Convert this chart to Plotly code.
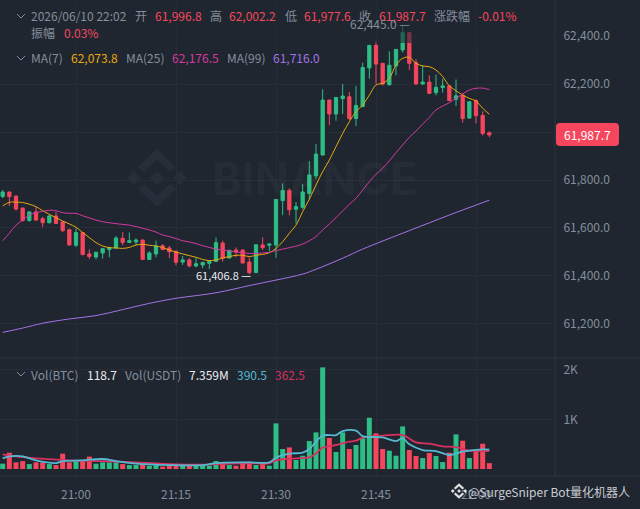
import pandas as pd
import plotly.graph_objects as go
from plotly.subplots import make_subplots

WIDTH = 640
HEIGHT = 509

BG = '#1f2630'
GRID = '#272d37'
EDGE = '#2f3540'
GRAY = '#848e9c'
RED = '#f6465d'
GREEN = '#2ebd85'
ORANGE = '#e9a90d'
MAGENTA = '#d5399f'
PURPLE = '#a373e6'
CYAN = '#55b9d2'
CRIMSON = '#d8305f'
FONT = 'Noto Sans CJK SC'

times = pd.date_range('2026-06-10 20:49', periods=74, freq='min')

opens = [61731, 61750, 61733, 61683, 61631, 61667, 61639, 61622, 61650, 61625,
         61593, 61528, 61581, 61492, 61479, 61496, 61510, 61517, 61557, 61540,
         61542, 61550, 61469, 61492, 61526, 61517, 61503, 61458, 61467, 61442,
         61446, 61453, 61461, 61537, 61475, 61508, 61508, 61458, 61415, 61529,
         61528, 61529, 61714, 61757, 61678, 61686, 61744, 61817, 61904, 62133,
         62075, 62139, 62147, 62056, 62106, 62267, 62361, 62286, 62197, 62275,
         62342, 62414, 62289, 62200, 62208, 62164, 62185, 62192, 62136, 62153,
         62058, 62131, 62069, 61996.8]
highs = [61758, 61752, 61735, 61686, 61669, 61686, 61647, 61656, 61667, 61628,
         61597, 61599, 61583, 61511, 61500, 61517, 61522, 61567, 61583, 61581,
         61557, 61552, 61503, 61547, 61533, 61525, 61506, 61483, 61475, 61475,
         61460, 61464, 61561, 61547, 61508, 61519, 61511, 61478, 61531, 61561,
         61536, 61720, 61786, 61765, 61708, 61783, 61879, 61950, 62178, 62135,
         62145, 62200, 62167, 62192, 62289, 62362, 62381, 62288, 62336, 62345,
         62445, 62415, 62303, 62278, 62236, 62239, 62222, 62193, 62219, 62161,
         62127, 62136, 62086, 62002.2]
lows = [61724, 61692, 61672, 61626, 61626, 61631, 61603, 61619, 61617, 61583,
        61527, 61521, 61487, 61471, 61469, 61472, 61478, 61514, 61528, 61539,
        61528, 61467, 61467, 61478, 61508, 61474, 61444, 61446, 61436, 61436,
        61432, 61429, 61458, 61460, 61474, 61478, 61453, 61406.8, 61411, 61508,
        61503, 61476, 61653, 61653, 61619, 61678, 61719, 61803, 61902, 62028,
        62047, 62075, 62050, 62025, 62103, 62222, 62200, 62194, 62192, 62236,
        62331, 62258, 62197, 62197, 62158, 62153, 62164, 62128, 62108, 62039,
        62056, 62036, 61985, 61977.6]
closes = [61750, 61731, 61679, 61631, 61667, 61633, 61622, 61650, 61619, 61589,
          61529, 61581, 61489, 61481, 61499, 61514, 61518, 61558, 61540, 61547,
          61550, 61469, 61496, 61525, 61510, 61501, 61457, 61467, 61442, 61451,
          61456, 61461, 61539, 61474, 61507, 61500, 61454, 61414, 61530, 61518,
          61533, 61719, 61756, 61676, 61689, 61750, 61821, 61908, 62133, 62075,
          62144, 62150, 62056, 62111, 62269, 62361, 62283, 62200, 62278, 62344,
          62414, 62286, 62200, 62208, 62161, 62186, 62192, 62131, 62151, 62056,
          62126, 62068, 61994, 61987.7]

ma7 = [61692, 61707, 61708, 61706, 61699, 61689, 61672, 61657, 61643, 61629,
       61617, 61603, 61581, 61560, 61539, 61525, 61518, 61517, 61515, 61519,
       61529, 61532, 61528, 61525, 61518, 61508, 61499, 61492, 61485, 61478,
       61469, 61464, 61467, 61475, 61481, 61486, 61486, 61481, 61486, 61490,
       61497, 61515, 61543, 61578, 61612, 61668, 61720, 61779, 61835, 61883,
       61939, 61994, 62043, 62085, 62112, 62154, 62196, 62203, 62224, 62279,
       62307, 62311, 62286, 62275, 62272, 62258, 62231, 62192, 62172, 62154,
       62140, 62129, 62099, 62073.8]
ma25 = [61547, 61578, 61612, 61633, 61654, 61664, 61669, 61674, 61672, 61664,
        61661, 61661, 61651, 61642, 61633, 61626, 61622, 61618, 61615, 61612,
        61606, 61599, 61592, 61583, 61571, 61564, 61556, 61547, 61542, 61535,
        61526, 61519, 61512, 61508, 61504, 61500, 61497, 61494, 61494, 61496,
        61499, 61506, 61512, 61518, 61524, 61533, 61547, 61564, 61592, 61617,
        61643, 61671, 61699, 61724, 61758, 61793, 61824, 61849, 61880, 61914,
        61946, 61978, 62004, 62033, 62061, 62092, 62108, 62122, 62140, 62158,
        62175, 62182, 62183, 62176.5]
ma99_idx = [0, 3, 6, 10, 14, 18, 22, 26, 32, 37, 41, 45, 47, 51, 54, 61, 67, 73]
ma99 = [61165, 61183, 61203, 61221, 61235, 61260, 61286, 61307, 61330, 61360,
        61383, 61408, 61428, 61474, 61512, 61589, 61654, 61716]

volumes = [108, 330, 135, 160, 100, 135, 135, 100, 80, 310,
           135, 160, 160, 250, 108, 135, 135, 135, 100, 80,
           80, 100, 67, 80, 47, 67, 67, 67, 67, 67,
           67, 67, 160, 135, 80, 67, 135, 148, 80, 114,
           67, 922, 404, 437, 182, 269, 565, 740, 2053, 626,
           343, 740, 404, 485, 619, 1036, 720, 404, 370, 269,
           861, 384, 262, 222, 323, 262, 141, 330, 700, 572,
           222, 384, 511, 118.7]
vol_cyan_idx = [0, 1, 3, 5, 8, 9, 12, 15, 17, 20, 25, 30, 32, 36, 37, 40, 41, 43, 45,
                46, 48, 50, 51, 53, 54, 57, 59, 60, 61, 63, 65, 67, 69, 72, 73]
vol_cyan = [215, 256, 256, 175, 121, 160, 175, 202, 160, 108, 80, 80, 121, 135, 135, 135, 229, 310, 330,
            404, 673, 686, 767, 774, 666, 639, 565, 619, 498, 384, 363, 283, 350, 397, 390.5]
vol_red_idx = [0, 2, 5, 10, 15, 20, 25, 30, 35, 37, 40, 41, 44, 46, 47, 48, 50, 52, 53, 54,
               57, 60, 62, 64, 66, 68, 70, 72, 73]
vol_red = [296, 256, 215, 175, 160, 135, 100, 87, 114, 121, 114, 175, 215, 236, 316, 431, 485, 552, 572, 633,
           673, 686, 538, 511, 458, 444, 370, 363, 362.5]

header_labels = [
    ('2026/06/10 22:02', 30, 16, GRAY), ('开', 134, 16, GRAY), ('61,996.8', 154, 16, RED),
    ('高', 209, 16, GRAY), ('62,002.2', 228, 16, RED), ('低', 284, 16, GRAY),
    ('61,977.6', 303, 16, RED), ('收', 358, 16, GRAY), ('61,987.7', 378, 16, RED),
    ('涨跌幅', 433, 16, GRAY), ('-0.01%', 477, 16, RED),
    ('振幅', 30, 33, GRAY), ('0.03%', 63, 33, RED),
    ('MA(7)', 30, 58, GRAY), ('62,073.8', 70, 58, ORANGE),
    ('MA(25)', 125, 58, GRAY), ('62,176.5', 171, 58, MAGENTA),
    ('MA(99)', 226, 58, GRAY), ('61,716.0', 272, 58, PURPLE),
    ('Vol(BTC)', 30, 374, GRAY), ('118.7', 86, 374, '#eaecef'),
    ('Vol(USDT)', 124, 374, GRAY), ('7.359M', 188, 374, '#eaecef'),
    ('390.5', 236, 374, CYAN), ('362.5', 274, 374, CRIMSON),
]


def px(x):
    return x / WIDTH


def py(y):
    return 1 - y / HEIGHT


def poly(points):
    return 'M ' + ' L '.join('%.5f %.5f' % (px(x), py(y)) for x, y in points) + ' Z'


def label(fig, text, x, y, color, size=12, anchor='left'):
    fig.add_annotation(xref='paper', yref='paper', x=px(x), y=py(y), text=text, showarrow=False,
                       xanchor=anchor, yanchor='middle', borderpad=0,
                       font=dict(family=FONT, size=size, color=color))


def chevron(fig, y):
    path = 'M %.5f %.5f L %.5f %.5f L %.5f %.5f' % (px(17), py(y - 2), px(21), py(y + 2), px(25), py(y - 2))
    fig.add_shape(type='path', xref='paper', yref='paper', path=path, line=dict(color=GRAY, width=1))


def diamond(cx, cy, r):
    return poly([(cx, cy - r), (cx + r, cy), (cx, cy + r), (cx - r, cy)])


def logo_paths(cx, cy, k):
    # binance mark, k scales the big watermark version down
    paths = [diamond(cx, cy, 7 * k), diamond(cx - 23 * k, cy, 7 * k), diamond(cx + 23 * k, cy, 7 * k)]
    for s in (1, -1):
        paths.append(poly([(cx, cy - s * 29 * k), (cx + 19 * k, cy - s * 11 * k), (cx + 13 * k, cy - s * 6 * k),
                           (cx, cy - s * 18 * k), (cx - 13 * k, cy - s * 6 * k), (cx - 19 * k, cy - s * 11 * k)]))
    return paths


def create_chart():
    fig = make_subplots(rows=2, cols=1, shared_xaxes=True)

    bar_colors = [GREEN if c >= o else RED for o, c in zip(opens, closes)]
    ma99_times = [times[i] for i in ma99_idx]

    fig.add_trace(go.Candlestick(x=times, open=opens, high=highs, low=lows, close=closes, whiskerwidth=0,
                                 increasing=dict(line=dict(color=GREEN, width=1), fillcolor=GREEN),
                                 decreasing=dict(line=dict(color=RED, width=1), fillcolor=RED)), row=1, col=1)
    fig.add_trace(go.Scatter(x=times, y=ma7, mode='lines', line=dict(color=ORANGE, width=1, shape='spline')), row=1, col=1)
    fig.add_trace(go.Scatter(x=times, y=ma25, mode='lines', line=dict(color=MAGENTA, width=1, shape='spline')), row=1, col=1)
    fig.add_trace(go.Scatter(x=ma99_times, y=ma99, mode='lines', line=dict(color=PURPLE, width=1, shape='spline')), row=1, col=1)

    fig.add_trace(go.Bar(x=times, y=volumes, width=45000, marker=dict(color=bar_colors, line=dict(width=0))), row=2, col=1)
    fig.add_trace(go.Scatter(x=[times[i] for i in vol_red_idx], y=vol_red, mode='lines',
                             line=dict(color=CRIMSON, width=1.8, shape='spline')), row=2, col=1)
    fig.add_trace(go.Scatter(x=[times[i] for i in vol_cyan_idx], y=vol_cyan, mode='lines',
                             line=dict(color=CYAN, width=1.8, shape='spline')), row=2, col=1)

    fig.update_layout(width=WIDTH, height=HEIGHT, margin=dict(l=0, r=0, t=0, b=0), showlegend=False,
                      paper_bgcolor=BG, plot_bgcolor=BG, boxgap=0.3, hovermode=False,
                      font=dict(family=FONT, size=12, color=GRAY))

    x_range = ['2026-06-10 20:48:36', '2026-06-10 22:11:51']
    fig.update_xaxes(range=x_range, domain=[0, 555 / WIDTH], rangeslider_visible=False, showgrid=True,
                     gridcolor=GRID, gridwidth=1, tick0='2026-06-10 21:00', dtick=900000, zeroline=False,
                     showline=False, ticks='')
    fig.update_xaxes(tickformat='%H:%M', ticks='outside', ticklen=8, tickcolor='rgba(0,0,0,0)',
                     tickfont=dict(family=FONT, size=12, color=GRAY), showticklabels=True, row=2, col=1)
    fig.update_xaxes(showticklabels=False, row=1, col=1)

    fig.update_yaxes(side='right', showgrid=True, gridcolor=GRID, gridwidth=1, zeroline=False, showline=False,
                     ticks='outside', ticklen=5, tickcolor='rgba(0,0,0,0)',
                     tickfont=dict(family=FONT, size=12, color=GRAY))
    fig.update_yaxes(domain=[1 - 358 / HEIGHT, 1], range=[61058.3, 62550], tickvals=[61200, 61400, 61600, 61800, 62000, 62200, 62400],
                     ticktext=['61,200.0', '61,400.0', '61,600.0', '61,800.0', '', '62,200.0', '62,400.0'], row=1, col=1)
    fig.update_yaxes(domain=[1 - 476 / HEIGHT, 1 - 359 / HEIGHT], range=[-141, 2222], tickvals=[1000, 2000],
                     ticktext=['1K', '2K'], row=2, col=1)

    # pane borders
    for y in (358, 476):
        fig.add_shape(type='line', xref='paper', yref='paper', x0=0, x1=1, y0=py(y), y1=py(y), line=dict(color=EDGE, width=1))
    fig.add_shape(type='line', xref='paper', yref='paper', x0=px(555), x1=px(555), y0=py(0), y1=py(476), line=dict(color=EDGE, width=1))

    # watermark sits under the marks
    for path in logo_paths(157, 178, 1):
        fig.add_shape(type='path', xref='paper', yref='paper', path=path, fillcolor='#282e39', line=dict(width=0), layer='below')
    label(fig, 'BINANCE', 314, 179, 'rgba(255,255,255,0.04)', size=45, anchor='center')
    fig.layout.annotations[-1].font.family = 'Inter'
    fig.layout.annotations[-1].font.weight = 'bold'

    # header band dims whatever runs under the legend
    fig.add_shape(type='rect', xref='paper', yref='paper', x0=0, x1=px(555), y0=py(43), y1=py(0),
                  fillcolor='rgba(31,38,48,0.6)', line=dict(width=0), layer='above')

    for text, x, y, color in header_labels:
        label(fig, text, x, y, color)
    chevron(fig, 16)
    chevron(fig, 58)
    chevron(fig, 374)

    label(fig, '62,445.0 —', 349, 24, GRAY)
    label(fig, '61,406.8 —', 195, 275, '#eaecef', size=11)

    # last price badge
    x0, x1, y0, y1, r = 556, 619, 123, 146, 4
    badge = ('M %.5f %.5f L %.5f %.5f Q %.5f %.5f %.5f %.5f L %.5f %.5f Q %.5f %.5f %.5f %.5f '
             'L %.5f %.5f Q %.5f %.5f %.5f %.5f L %.5f %.5f Q %.5f %.5f %.5f %.5f Z') % (
        px(x0 + r), py(y0), px(x1 - r), py(y0), px(x1), py(y0), px(x1), py(y0 + r),
        px(x1), py(y1 - r), px(x1), py(y1), px(x1 - r), py(y1),
        px(x0 + r), py(y1), px(x0), py(y1), px(x0), py(y1 - r),
        px(x0), py(y0 + r), px(x0), py(y0), px(x0 + r), py(y0))
    fig.add_shape(type='path', xref='paper', yref='paper', path=badge, fillcolor=RED, line=dict(width=0))
    label(fig, '61,987.7', 587.5, 134.5, '#ffffff', anchor='center')

    # bot watermark over the time axis
    for path in logo_paths(459, 491, 0.27):
        fig.add_shape(type='path', xref='paper', yref='paper', path=path, fillcolor='#e0e0e0', line=dict(width=0))
    label(fig, '@SurgeSniper Bot量化机器人', 467, 491, '#c9ccd1')

    # the page's default body margin would push the fixed-size figure off the window
    fig.write_html('out.html', config={'displayModeBar': False}, post_script="document.body.style.margin='0';")


if __name__ == '__main__':
    create_chart()
